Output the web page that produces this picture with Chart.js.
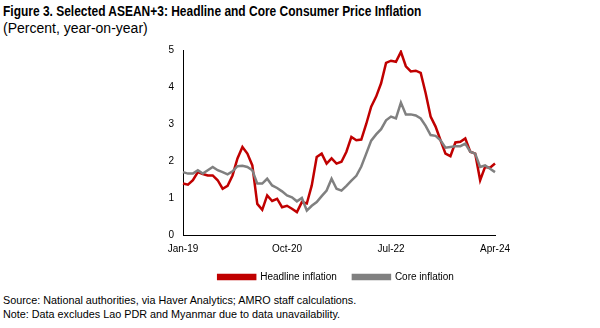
<!DOCTYPE html>
<html>
<head>
<meta charset="utf-8">
<title>Figure 3</title>
<script src="https://cdn.jsdelivr.net/npm/chart.js@4.4.1/dist/chart.umd.min.js"></script>
<style>
    html, body { margin: 0; padding: 0; background: #fff; }
    body { width: 600px; height: 328px; position: relative; overflow: hidden; font-family: "Liberation Sans", Arial, sans-serif; color: #000; }
    .title { position: absolute; left: 3px; top: 3px; font-size: 14px; font-weight: bold; white-space: nowrap; transform: scaleX(0.855); transform-origin: 0 0; }
    .subtitle { position: absolute; left: 3px; top: 20px; font-size: 14px; }
    .chart-box { position: absolute; left: 0; top: 0; width: 600px; height: 292px; }
    .note { position: absolute; left: 3px; font-size: 10.8px; white-space: nowrap; }
</style>
</head>
<body>
<div class="title">Figure 3. Selected ASEAN+3: Headline and Core Consumer Price Inflation</div>
<div class="subtitle">(Percent, year-on-year)</div>
<div class="chart-box"><canvas id="inflationChart"></canvas></div>
<div class="note" style="top:294px">Source: National authorities, via Haver Analytics; AMRO staff calculations.</div>
<div class="note" style="top:308px">Note: Data excludes Lao PDR and Myanmar due to data unavailability.</div>

<script>
(function() {
    'use strict';

    // months Jan-19 .. Apr-24
    const months = [
        'Jan-19', 'Feb-19', 'Mar-19', 'Apr-19', 'May-19', 'Jun-19', 'Jul-19', 'Aug-19', 'Sep-19', 'Oct-19', 'Nov-19', 'Dec-19',
        'Jan-20', 'Feb-20', 'Mar-20', 'Apr-20', 'May-20', 'Jun-20', 'Jul-20', 'Aug-20', 'Sep-20', 'Oct-20', 'Nov-20', 'Dec-20',
        'Jan-21', 'Feb-21', 'Mar-21', 'Apr-21', 'May-21', 'Jun-21', 'Jul-21', 'Aug-21', 'Sep-21', 'Oct-21', 'Nov-21', 'Dec-21',
        'Jan-22', 'Feb-22', 'Mar-22', 'Apr-22', 'May-22', 'Jun-22', 'Jul-22', 'Aug-22', 'Sep-22', 'Oct-22', 'Nov-22', 'Dec-22',
        'Jan-23', 'Feb-23', 'Mar-23', 'Apr-23', 'May-23', 'Jun-23', 'Jul-23', 'Aug-23', 'Sep-23', 'Oct-23', 'Nov-23', 'Dec-23',
        'Jan-24', 'Feb-24', 'Mar-24', 'Apr-24'
    ];

    const shownTicks = ['Jan-19', 'Oct-20', 'Jul-22', 'Apr-24'];

    const headline = [
        1.39, 1.36, 1.48, 1.70, 1.65, 1.61, 1.61, 1.48, 1.25, 1.33, 1.61, 2.07,
        2.38, 2.20, 1.88, 0.84, 0.68, 1.07, 0.92, 0.98, 0.75, 0.79, 0.71, 0.62,
        0.89, 0.85, 1.34, 2.11, 2.20, 1.93, 2.07, 1.93, 1.98, 2.25, 2.65, 2.56,
        2.58, 3.00, 3.47, 3.74, 4.10, 4.65, 4.71, 4.68, 4.95, 4.56, 4.42, 4.44,
        4.38, 3.83, 3.20, 2.93, 2.56, 2.20, 2.13, 2.50, 2.52, 2.61, 2.25, 2.20,
        1.48, 1.84, 1.82, 1.93
    ];

    const core = [
        1.70, 1.66, 1.66, 1.75, 1.66, 1.75, 1.84, 1.75, 1.70, 1.64, 1.72, 1.86,
        1.87, 1.84, 1.75, 1.39, 1.39, 1.52, 1.34, 1.27, 1.18, 1.07, 1.02, 0.91,
        1.00, 0.66, 0.79, 0.89, 1.05, 1.20, 1.52, 1.25, 1.20, 1.33, 1.47, 1.60,
        1.85, 2.20, 2.55, 2.72, 2.86, 3.10, 3.20, 3.15, 3.58, 3.26, 3.26, 3.23,
        3.15, 2.95, 2.70, 2.68, 2.56, 2.36, 2.38, 2.40, 2.40, 2.47, 2.25, 2.20,
        1.84, 1.88, 1.79, 1.70
    ];

    const headlineColor = '#C00000';
    const coreColor = '#808080';
    const textFont = { family: '"Liberation Sans", Arial, sans-serif', size: 10 };

    Chart.defaults.color = '#000';
    Chart.defaults.font = textFont;

    // centre the legend under the plot area instead of the whole canvas
    const legendUnderPlot = {
        id: 'legendUnderPlot',
        afterLayout: function(chart) {
            const legend = chart.legend;
            const area = chart.chartArea;
            if (!legend || !area) return;
            legend.left = area.left - 103;
            legend.right = area.right + 97;
            legend.width = legend.right - legend.left;
        }
    };

    function initChart() {
        const ctx = document.getElementById('inflationChart');

        new Chart(ctx, {
            type: 'line',
            data: {
                labels: months,
                datasets: [
                    {
                        label: 'Headline inflation',
                        data: headline,
                        borderColor: headlineColor,
                        backgroundColor: headlineColor,
                        borderWidth: 2.5,
                        pointRadius: 0,
                        tension: 0,
                        order: 1
                    },
                    {
                        label: 'Core inflation',
                        data: core,
                        borderColor: coreColor,
                        backgroundColor: coreColor,
                        borderWidth: 2.5,
                        pointRadius: 0,
                        tension: 0,
                        order: 0
                    }
                ]
            },
            plugins: [legendUnderPlot],
            options: {
                responsive: true,
                maintainAspectRatio: false,
                animation: false,
                layout: {
                    padding: { top: 50, right: 105, left: 0, bottom: 0 }
                },
                plugins: {
                    legend: {
                        position: 'bottom',
                        labels: {
                            boxWidth: 37,
                            boxHeight: 4,
                            padding: 16,
                            font: textFont,
                            sort: function(a, b) { return a.datasetIndex - b.datasetIndex; }
                        }
                    },
                    tooltip: { enabled: false }
                },
                scales: {
                    x: {
                        grid: { display: false, drawTicks: false },
                        border: { display: true, color: '#000', width: 1 },
                        ticks: {
                            autoSkip: false,
                            maxRotation: 0,
                            padding: 8,
                            callback: function(value) {
                                const label = this.getLabelForValue(value);
                                return shownTicks.indexOf(label) >= 0 ? label : '';
                            }
                        },
                        afterFit: function(scale) { scale.height = 21; }
                    },
                    y: {
                        min: 0,
                        max: 5,
                        grid: { display: false, drawTicks: false },
                        border: { display: true, color: '#000', width: 1 },
                        ticks: { stepSize: 1, padding: 9 },
                        afterFit: function(scale) { scale.width = 183; }
                    }
                }
            }
        });
    }

    document.addEventListener('DOMContentLoaded', initChart);
})();
</script>
</body>
</html>
